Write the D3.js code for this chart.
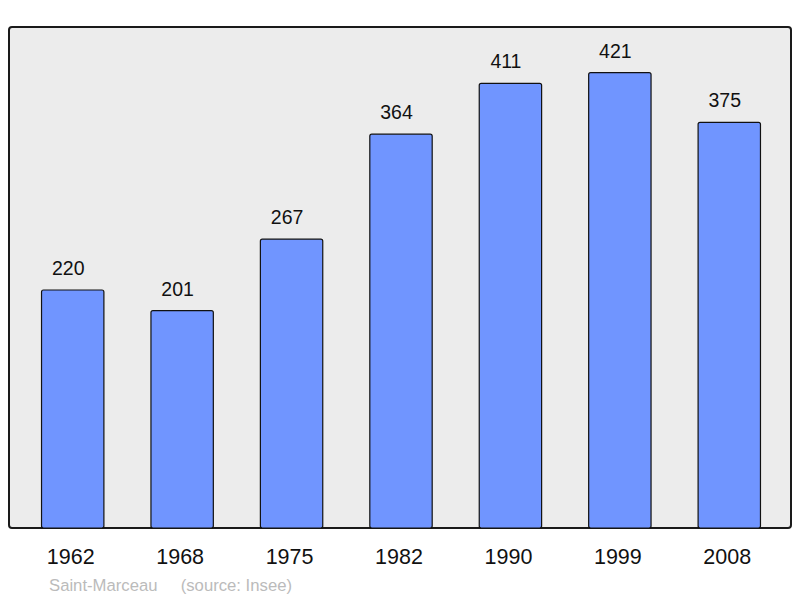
<!DOCTYPE html>
<html><head><meta charset="utf-8">
<script src="https://cdn.jsdelivr.net/npm/d3@7"></script>
<style>body{margin:0;background:#fff}svg{display:block}</style>
</head><body>
<script>
const years = ["1962","1968","1975","1982","1990","1999","2008"];
const population = [220,201,267,364,411,421,375];
const footer = "Saint-Marceau     (source: Insee)";

const W = 800, H = 598;
const frame = {left: 9, top: 27, right: 791, bottom: 528};
const font = "Liberation Sans, Arial, sans-serif";
const svg = d3.select("body").append("svg").attr("width", W).attr("height", H);

svg.append("rect").attr("x", frame.left).attr("y", frame.top)
  .attr("width", frame.right - frame.left).attr("height", frame.bottom - frame.top)
  .attr("rx", 3).attr("fill", "#ececec").attr("stroke", "#1a1a1a").attr("stroke-width", 2);

const x = d3.scaleBand().domain(years).range([18, 784]).paddingInner(0.43).paddingOuter(0.215);
const y = d3.scaleLinear().domain([0, d3.max(population) * 1.1]).range([frame.bottom, frame.top]);

const g = svg.append("g");
g.selectAll("rect.bar").data(years).join("rect").attr("class", "bar")
  .attr("x", d => x(d)).attr("width", x.bandwidth())
  .attr("y", (d, i) => y(population[i])).attr("height", (d, i) => frame.bottom - y(population[i]))
  .attr("rx", 2).attr("fill", "#7095ff").attr("stroke", "#111").attr("stroke-width", 1.2);

g.selectAll("text.val").data(years).join("text").attr("class", "val")
  .attr("x", d => x(d) + x.bandwidth() / 2 - 4.5).attr("y", (d, i) => y(population[i]) - 15)
  .attr("text-anchor", "middle").attr("font-family", font)
  .attr("font-size", 19.5).attr("fill", "#111").text((d, i) => population[i]);

const xAxis = d3.axisBottom(x).tickSize(0).tickPadding(0);
const ax = svg.append("g").attr("transform", `translate(0,${frame.bottom})`).call(xAxis);
ax.select(".domain").remove();
ax.selectAll("text").attr("x", -2).attr("y", 36).attr("dy", 0).attr("font-family", font)
  .attr("font-size", 21.5).attr("fill", "#111");

svg.append("text").attr("x", 49).attr("y", 591).attr("font-family", font)
  .attr("font-size", 16.7).attr("fill", "#bbbbbb").attr("xml:space", "preserve").style("white-space", "pre").text(footer);
</script>
</body></html>
